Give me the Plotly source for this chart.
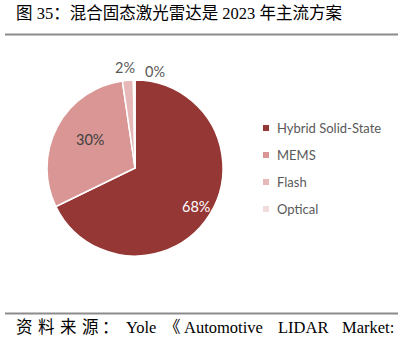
import plotly.graph_objects as go

# LiDAR technology share, 2023
categories = ["Hybrid Solid-State", "MEMS", "Flash", "Optical"]
shares = [68, 30, 2, 0.3]
share_labels = ["68%", "30%", "2%", "0%"]
colors = ["#953735", "#D99694", "#E6B9B8", "#F2DCDB"]

W, H = 404, 340
cx, cy, r = 135, 168, 88

fig = go.Figure()
fig.add_trace(go.Pie(
    labels=categories,
    values=shares,
    textinfo="none",
    sort=False,
    direction="clockwise",
    rotation=0,
    marker=dict(colors=colors, line=dict(color="white", width=1.5)),
    domain=dict(x=[(cx - r) / W, (cx + r) / W], y=[(H - cy - r) / H, (H - cy + r) / H]),
    showlegend=False,
    hoverinfo="label+percent",
))

annotations = []
shapes = []

serif = "Liberation Serif, Noto Sans CJK SC"
annotations.append(dict(
    text="图 35：混合固态激光雷达是 2023 年主流方案", x=14 / W, y=1 - 14 / H,
    xref="paper", yref="paper", xanchor="left", yanchor="middle", showarrow=False,
    font=dict(family=serif, size=16.5, color="black")))

# footer words laid out across the full width
footer_words = [("资", 14), ("料", 36), ("来", 58), ("源", 80), ("：", 100),
                ("Yole", 124), ("《", 162), ("Automotive", 182), ("LIDAR", 276), ("Market:", 340)]
for word, x in footer_words:
    annotations.append(dict(
        text=word, x=x / W, y=1 - 327 / H, xref="paper", yref="paper",
        xanchor="left", yanchor="middle", showarrow=False,
        font=dict(family=serif, size=16.5, color="black")))

for yline in (34.5, 313.5):
    shapes.append(dict(type="line", xref="paper", yref="paper",
                       x0=5 / W, x1=398 / W, y0=1 - yline / H, y1=1 - yline / H,
                       line=dict(color="#8C8C8C", width=2)))

# percentage labels
label_pos = [(196, 207, "white"), (90, 139, "#404040"), (125, 68, "#595959"), (155, 71, "#595959")]
for i, (lx, ly, col) in enumerate(label_pos):
    annotations.append(dict(
        text=share_labels[i], x=lx / W, y=1 - ly / H, xref="paper", yref="paper",
        showarrow=False, xanchor="center", yanchor="middle",
        font=dict(family="Lato, Open Sans, sans-serif", size=14.5, color=col)))

# legend
lx0, ly0, step = 266, 128, 27
for i, name in enumerate(categories):
    yy = ly0 + i * step
    shapes.append(dict(type="rect", xref="paper", yref="paper",
                       x0=(lx0 - 3) / W, x1=(lx0 + 3) / W,
                       y0=1 - (yy + 3) / H, y1=1 - (yy - 3) / H,
                       fillcolor=colors[i], line=dict(width=0)))
    annotations.append(dict(
        text=name, x=(lx0 + 9) / W, y=1 - yy / H, xref="paper", yref="paper",
        showarrow=False, xanchor="left", yanchor="middle",
        font=dict(family="Lato, Open Sans, sans-serif", size=13, color="#595959")))

fig.update_layout(
    width=W, height=H,
    margin=dict(l=0, r=0, t=0, b=0),
    paper_bgcolor="white",
    plot_bgcolor="white",
    annotations=annotations,
    shapes=shapes,
)

fig.write_html("out.html")
